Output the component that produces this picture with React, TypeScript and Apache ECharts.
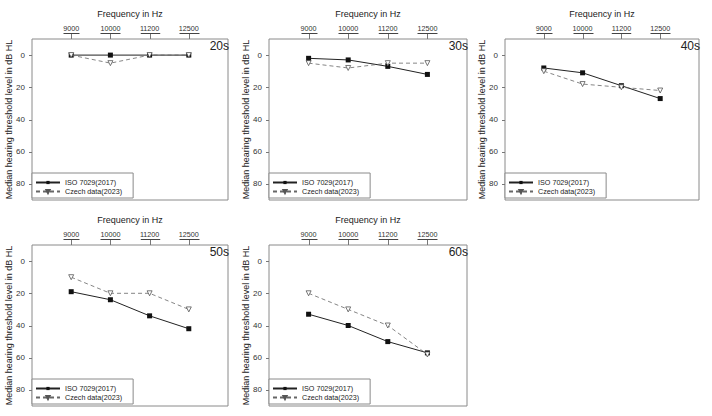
import React, { useEffect, useRef } from "react";
import * as echarts from "echarts";

const frequencies = ["9000", "10000", "11200", "12500"];
const panelNames = ["20s", "30s", "40s", "50s", "60s"];
const isoValues = [
  [0, 0, 0, 0],
  [2, 3, 7, 12],
  [8, 11, 19, 27],
  [19, 24, 34, 42],
  [33, 40, 50, 57],
];
const czechValues = [
  [0, 5, 0, 0],
  [5, 8, 5, 5],
  [10, 18, 20, 22],
  [10, 20, 20, 30],
  [20, 30, 40, 58],
];
const yTickLabels = [0, 20, 40, 60, 80];
const seriesNames = ["ISO 7029(2017)", "Czech data(2023)"];
const Y_MIN = -10;
const Y_MAX = 90;

const FONT = "'Liberation Sans', Arial, sans-serif";
const XLABEL_SIZE = 7.2;

const layout = [
  { left: 32, top: 39, width: 196 },
  { left: 269, top: 39, width: 198 },
  { left: 505, top: 39, width: 194 },
  { left: 32, top: 245, width: 196 },
  { left: 269, top: 245, width: 198 },
];
// order in which the panels are built
const buildOrder = [0, 1, 3, 4, 2];
const GRID_H = 161;
const XTICK_LEN = 6;
const YTICK_LEN = 3;

export default function App() {
  const ref = useRef<HTMLDivElement>(null);
  useEffect(() => {
    if (!ref.current) return;
    const chart = echarts.init(ref.current, null, { renderer: "svg" });
    const canvas = document.createElement("canvas");
    const ctx = canvas.getContext("2d");
    if (ctx) ctx.font = `${XLABEL_SIZE}px 'Liberation Sans', Arial, sans-serif`;
    const labelWidth = (s: string) => (ctx ? ctx.measureText(s).width : s.length * 4);

    const grids: any[] = [];
    const xAxes: any[] = [];
    const yAxes: any[] = [];
    const series: any[] = [];
    const titles: any[] = [];
    const legends: any[] = [];
    buildOrder.forEach((pi, i) => {
      const p = panelNames[pi];
      const L = layout[pi];
      grids.push({
        left: L.left,
        top: L.top,
        width: L.width,
        height: GRID_H,
        show: true,
        borderColor: "#8a8a8a",
        borderWidth: 1,
        backgroundColor: "transparent",
      });
      xAxes.push({
        type: "value",
        gridIndex: i,
        position: "top",
        min: -1,
        max: 4,
        interval: 1,
        name: "Frequency in Hz",
        nameLocation: "middle",
        nameGap: 21,
        nameMoveOverlap: false,
        nameTextStyle: { fontFamily: FONT, fontSize: 9, color: "#222" },
        axisLine: { show: false },
        splitLine: { show: false },
        axisTick: { show: false },
        axisLabel: {
          margin: XTICK_LEN + 1,
          hideOverlap: false,
          fontFamily: FONT,
          fontSize: XLABEL_SIZE,
          color: "#333",
          formatter: (v: number) => frequencies[v] ?? "",
        },
      });
      yAxes.push({
        type: "value",
        gridIndex: i,
        inverse: true,
        min: Y_MIN,
        max: Y_MAX,
        interval: 10,
        name: "Median hearing threshold level in dB HL",
        nameLocation: "middle",
        nameGap: 19,
        nameMoveOverlap: false,
        nameTextStyle: { fontFamily: FONT, fontSize: 9, color: "#222" },
        axisLine: { show: false },
        axisTick: { show: false },
        splitLine: { show: false },
        axisLabel: {
          margin: 7,
          hideOverlap: false,
          fontFamily: FONT,
          fontSize: 8,
          color: "#333",
          formatter: (v: number) => (yTickLabels.includes(v) ? String(v) : ""),
        },
      });
      series.push({
        name: seriesNames[0],
        type: "line",
        xAxisIndex: i,
        yAxisIndex: i,
        data: isoValues[pi].map((v, k) => [k, v]),
        symbol: "rect",
        symbolSize: 5,
        itemStyle: { color: "#111" },
        lineStyle: { color: "#222", width: 1 },
        z: 2,
      });
      series.push({
        name: seriesNames[1],
        type: "line",
        xAxisIndex: i,
        yAxisIndex: i,
        data: czechValues[pi].map((v, k) => [k, v]),
        symbol: "triangle",
        symbolRotate: 180,
        symbolSize: 5,
        itemStyle: { color: "#fff", borderColor: "#555", borderWidth: 0.8 },
        lineStyle: { color: "#666", width: 0.8, type: [4, 3] },
        z: 3,
      });
      series.push({
        name: "xticks" + i,
        type: "custom",
        xAxisIndex: i,
        yAxisIndex: i,
        silent: true,
        clip: false,
        z: 4,
        data: frequencies.map((_, k) => [k, Y_MIN]),
        renderItem: (params: any, api: any) => {
          const k = api.value(0);
          const pt = api.coord([k, api.value(1)]);
          const x = Math.round(pt[0]) + 0.5;
          const y0 = Math.round(pt[1]);
          const yU = y0 - XTICK_LEN + 0.5;
          const w = labelWidth(frequencies[k]);
          return {
            type: "group",
            children: [
              {
                type: "line",
                shape: { x1: x, y1: yU, x2: x, y2: y0 },
                style: { stroke: "#777", lineWidth: 1 },
              },
              {
                type: "line",
                shape: { x1: x - w / 2, y1: yU, x2: x + w / 2, y2: yU },
                style: { stroke: "#444", lineWidth: 1 },
              },
            ],
          };
        },
      });
      series.push({
        name: "yticks" + i,
        type: "custom",
        xAxisIndex: i,
        yAxisIndex: i,
        silent: true,
        clip: false,
        z: 4,
        data: yTickLabels.map((v) => [-1, v]),
        renderItem: (params: any, api: any) => {
          const pt = api.coord([api.value(0), api.value(1)]);
          const x = Math.round(pt[0]);
          const y = Math.round(pt[1]) + 0.5;
          return {
            type: "line",
            shape: { x1: x - YTICK_LEN, y1: y, x2: x, y2: y },
            style: { stroke: "#777", lineWidth: 1 },
          };
        },
      });
      titles.push({
        text: p,
        right: 712 - (L.left + L.width) - 1,
        top: L.top + 1,
        padding: 0,
        textStyle: { fontFamily: FONT, fontSize: 12, fontWeight: "normal", color: "#222" },
      });
      legends.push({
        orient: "vertical",
        left: L.left,
        top: L.top + 134,
        padding: [5, 11, 2, 3],
        itemGap: 0,
        itemWidth: 24,
        itemHeight: 4,
        borderColor: "#8a8a8a",
        borderWidth: 1,
        selectedMode: false,
        backgroundColor: "#fff",
        data: seriesNames,
        textStyle: { fontFamily: FONT, fontSize: 7.2, color: "#222", lineHeight: 9 },
      });
    });
    chart.setOption({
      animation: false,
      backgroundColor: "#fff",
      title: titles,
      grid: grids,
      xAxis: xAxes,
      yAxis: yAxes,
      legend: legends,
      series,
    });
    return () => chart.dispose();
  }, []);
  return (
    <div
      ref={ref}
      style={{ position: "fixed", left: 0, top: 0, width: 712, height: 416 }}
    />
  );
}
